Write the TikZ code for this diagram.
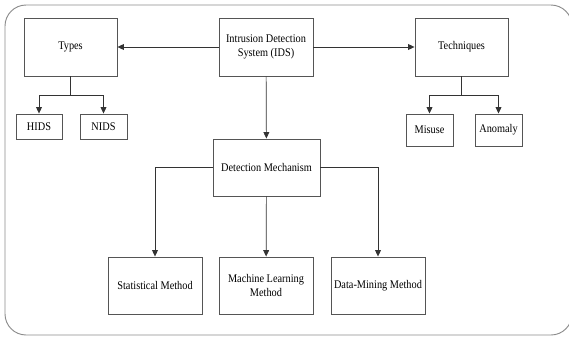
\documentclass[tikz,border=0pt]{standalone}
\usepackage{fontspec}
\setmainfont{Liberation Serif}[FakeStretch=0.88]
\usepackage{tikz}
\usetikzlibrary{arrows.meta}
\definecolor{boxline}{HTML}{555555}
\definecolor{frameline}{HTML}{8C8C8C}
\tikzset{
  box/.style={draw=boxline,line width=0.8pt,align=center,inner sep=1pt,
    font=\fontsize{10}{11.5}\selectfont},
  link/.style={-{Triangle[length=5.5pt,width=5pt]},draw=black!80,line width=0.6pt}
}

\begin{document}
\begin{tikzpicture}[x=0.03cm,y=-0.03cm]
  \useasboundingbox (0,0) rectangle (569,336);
  \draw [frameline,line width=0.8pt,rounded corners=18] (5,5) rectangle (572,335);

  \node[box,minimum width=2.79cm,minimum height=1.74cm] (types) at (70.5,47) {Types};
  \node[box,minimum width=2.82cm,minimum height=1.74cm] (ids) at (266,47) {Intrusion Detection\\System (IDS)};
  \node[box,minimum width=2.79cm,minimum height=1.74cm] (tech) at (461.5,47) {Techniques};

  \node[box,minimum width=1.38cm,minimum height=0.75cm] (hids) at (39,126.5) {HIDS};
  \node[box,minimum width=1.41cm,minimum height=0.75cm] (nids) at (103.5,126.5) {NIDS};
  \node[box,minimum width=1.41cm,minimum height=0.96cm] (misuse) at (429.5,130) {Misuse};
  \node[box,minimum width=1.41cm,minimum height=0.96cm] (anomaly) at (498.5,130) {Anomaly};

  \node[box,minimum width=3.21cm,minimum height=1.71cm] (detect) at (266.5,167.5) {Detection Mechanism};

  \node[box,minimum width=2.82cm,minimum height=1.71cm] (stat) at (155,285.5) {Statistical Method};
  \node[box,minimum width=2.82cm,minimum height=1.71cm] (ml) at (266,285.5) {Machine Learning\\Method};
  \node[box,minimum width=2.82cm,minimum height=1.71cm] (dmine) at (378,285.5) {Data-Mining Method};

  \draw [link] (ids) -- (types);
  \draw [link] (ids) -- (tech);
  \draw [link] (ids) -- (detect);

  \draw [link] (types.south) -- ++(0,19) -| (hids.north);
  \draw [link] (types.south) -- ++(0,19) -| (nids.north);
  \draw [link] (tech.south) -- ++(0,19) -| (misuse.north);
  \draw [link] (tech.south) -- ++(0,19) -| (anomaly.north);

  \draw [link] (detect.west) -| (stat.north);
  \draw [link] (detect) -- (ml);
  \draw [link] (detect.east) -| (dmine.north);
\end{tikzpicture}
\end{document}
